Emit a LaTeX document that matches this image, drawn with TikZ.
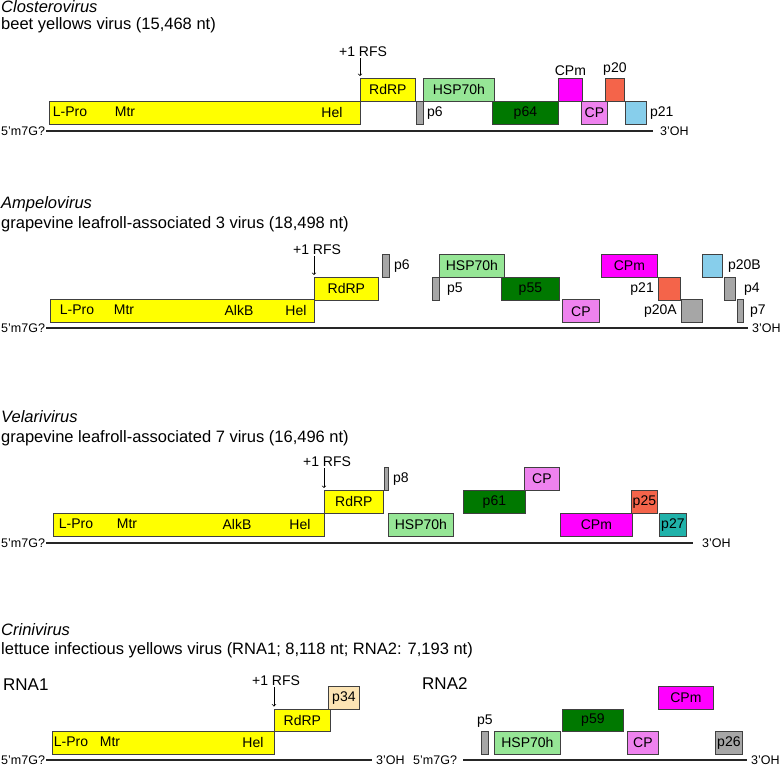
\documentclass[tikz,border=0pt]{standalone}
\usepackage{fontspec}
\setmainfont{Liberation Sans}
\usetikzlibrary{positioning}
\definecolor{orfline}{HTML}{404040}
\definecolor{polyel}{HTML}{FFFF00}
\definecolor{hspgreen}{HTML}{96E696}
\definecolor{darkgreen}{HTML}{007800}
\definecolor{cpmmag}{HTML}{FF00FF}
\definecolor{cpviolet}{HTML}{EE82EE}
\definecolor{tomato}{HTML}{F4644A}
\definecolor{skyblue}{HTML}{87CEEB}
\definecolor{orfgrey}{HTML}{A6A6A6}
\definecolor{tealorf}{HTML}{20B2AA}
\definecolor{wheatorf}{HTML}{FCE4B4}

\begin{document}
\begin{tikzpicture}[x=1pt,y=1pt,
  orf/.style={draw=orfline,line width=0.8pt,inner sep=0pt,minimum height=22.6pt,anchor=north west,font=\fontsize{14}{16}\selectfont},
  lbl/.style={inner sep=1pt,font=\fontsize{14}{16}\selectfont},
  endlbl/.style={inner sep=1pt,anchor=west,font=\fontsize{12.5}{14}\selectfont},
  genus/.style={anchor=base west,inner sep=0pt,font=\fontsize{16.5}{19}\selectfont\itshape},
  virus/.style={anchor=base west,inner sep=0pt,font=\fontsize{16.5}{19}\selectfont},
  rna/.style={anchor=base west,inner sep=0pt,font=\fontsize{17}{20}\selectfont},
  genome/.style={line width=1.2pt,draw=black!85},
  rfsarrow/.style={->,line width=0.7pt,shorten >=2pt}]
\useasboundingbox (0,0) rectangle (780,-767);

\node[genus] (clos) at (1,-13) {Closterovirus};
\node[virus] (byv) at (1,-30) {beet yellows virus (15,468 nt)};
\node[orf,fill=polyel,minimum width=311pt] (pol1) at (49,-101) {};
\node[lbl] (lpro1) at (70,-112) {L-Pro};
\node[lbl] (mtr1) at (125,-112) {Mtr};
\node[lbl] (hel1) at (332,-112) {Hel};
\node[orf,fill=polyel,minimum width=55pt] (rdrp1) at (360,-78) {RdRP};
\node[orf,fill=orfgrey,minimum width=7pt] (p6a) at (416,-101) {};
\node[lbl,right=2pt of p6a] (p6at) {p6};
\node[orf,fill=hspgreen,minimum width=71pt] (hsp1) at (423,-78) {HSP70h};
\node[orf,fill=darkgreen,minimum width=66pt] (p64) at (492,-101) {p64};
\node[orf,fill=cpmmag,minimum width=24pt] (cpm1) at (558,-78) {};
\node[lbl,above=1pt of cpm1] (cpm1t) {CPm};
\node[orf,fill=cpviolet,minimum width=26pt] (cp1) at (581,-101) {CP};
\node[orf,fill=tomato,minimum width=19pt] (p20) at (605,-78) {};
\node[lbl,above=1pt of p20] (p20t) {p20};
\node[orf,fill=skyblue,minimum width=21pt] (p21a) at (625,-101) {};
\node[lbl,right=2pt of p21a] (p21at) {p21};
\node[lbl] (rfs1) at (363,-52) {+1 RFS};
\draw[rfsarrow] (rfs1.south -| rdrp1.north west) -- (rdrp1.north west);
\node[endlbl] (five1) at (0,-131) {5'm7G?};
\node[endlbl] (three1) at (659,-131) {3'OH};
\draw[genome] (five1.east) -- ([xshift=-6pt]three1.west);

\node[genus] (ampe) at (1,-209) {Ampelovirus};
\node[virus] (glrav3) at (1,-229) {grapevine leafroll-associated 3 virus (18,498 nt)};
\node[orf,fill=polyel,minimum width=264pt] (pol2) at (50,-299.5) {};
\node[lbl] (lpro2) at (77,-310) {L-Pro};
\node[lbl] (mtr2) at (124,-310) {Mtr};
\node[lbl] (alkb2) at (239,-310) {AlkB};
\node[lbl] (hel2) at (296,-310) {Hel};
\node[orf,fill=polyel,minimum width=64pt] (rdrp2) at (314,-277) {RdRP};
\node[orf,fill=orfgrey,minimum width=7pt] (p6b) at (382,-254) {};
\node[lbl,right=3pt of p6b] (p6bt) {p6};
\node[orf,fill=orfgrey,minimum width=7pt] (p5b) at (432,-277) {};
\node[lbl,right=6pt of p5b] (p5bt) {p5};
\node[orf,fill=hspgreen,minimum width=65pt] (hsp2) at (439,-254) {HSP70h};
\node[orf,fill=darkgreen,minimum width=58pt] (p55) at (501,-277) {p55};
\node[orf,fill=cpviolet,minimum width=37pt] (cp2) at (562,-299.5) {CP};
\node[orf,fill=cpmmag,minimum width=56pt] (cpm2) at (601,-254) {CPm};
\node[orf,fill=tomato,minimum width=22pt] (p21b) at (658,-277) {};
\node[lbl,left=3pt of p21b] (p21bt) {p21};
\node[orf,fill=orfgrey,minimum width=21pt] (p20A) at (681,-299.5) {};
\node[lbl,left=3pt of p20A] (p20At) {p20A};
\node[orf,fill=skyblue,minimum width=20pt] (p20B) at (702,-254) {};
\node[lbl,right=4pt of p20B] (p20Bt) {p20B};
\node[orf,fill=orfgrey,minimum width=11pt] (p4) at (724,-277) {};
\node[lbl,right=7pt of p4] (p4t) {p4};
\node[orf,fill=orfgrey,minimum width=6pt] (p7) at (737,-299.5) {};
\node[lbl,right=5pt of p7] (p7t) {p7};
\node[lbl] (rfs2) at (317,-250) {+1 RFS};
\draw[rfsarrow] (rfs2.south -| rdrp2.north west) -- (rdrp2.north west);
\node[endlbl] (five2) at (0,-328) {5'm7G?};
\node[endlbl] (three2) at (751,-328) {3'OH};
\draw[genome] (five2.east) -- ([xshift=-3pt]three2.west);

\node[genus] (vela) at (1,-423) {Velarivirus};
\node[virus] (glrav7) at (1,-443) {grapevine leafroll-associated 7 virus (16,496 nt)};
\node[orf,fill=polyel,minimum width=271pt] (pol3) at (53,-513) {};
\node[lbl] (lpro3) at (76,-524) {L-Pro};
\node[lbl] (mtr3) at (127,-524) {Mtr};
\node[lbl] (alkb3) at (237,-524) {AlkB};
\node[lbl] (hel3) at (300,-524) {Hel};
\node[orf,fill=polyel,minimum width=59pt] (rdrp3) at (324,-490) {RdRP};
\node[orf,fill=orfgrey,minimum width=4pt] (p8) at (384,-467) {};
\node[lbl,right=3pt of p8] (p8t) {p8};
\node[orf,fill=hspgreen,minimum width=65pt] (hsp3) at (388,-513) {HSP70h};
\node[orf,fill=darkgreen,minimum width=62pt] (p61) at (463,-490) {p61};
\node[orf,fill=cpviolet,minimum width=35pt] (cp3) at (524,-467) {CP};
\node[orf,fill=cpmmag,minimum width=72pt] (cpm3) at (560,-513) {CPm};
\node[orf,fill=tomato,minimum width=26pt] (p25) at (631,-490) {p25};
\node[orf,fill=tealorf,minimum width=27pt] (p27) at (659,-513) {p27};
\node[lbl] (rfs3) at (327,-462) {+1 RFS};
\draw[rfsarrow] (rfs3.south -| rdrp3.north west) -- (rdrp3.north west);
\node[endlbl] (five3) at (0,-543) {5'm7G?};
\node[endlbl] (three3) at (701,-543) {3'OH};
\draw[genome] (five3.east) -- ([xshift=-8pt]three3.west);

\node[genus] (crin) at (1,-635) {Crinivirus};
\node[virus] (liyv) at (1,-654) {lettuce infectious yellows virus (RNA1; 8,118 nt; RNA2: 7,193 nt)};
\node[rna] (rna1) at (3,-690) {RNA1};
\node[orf,fill=polyel,minimum width=222pt] (pol4) at (52,-731) {};
\node[lbl] (lpro4) at (71,-742) {L-Pro};
\node[lbl] (mtr4) at (110,-742) {Mtr};
\node[lbl] (hel4) at (253,-742) {Hel};
\node[orf,fill=polyel,minimum width=56pt] (rdrp4) at (274,-708.5) {RdRP};
\node[orf,fill=wheatorf,minimum width=31pt] (p34) at (328,-686) {p34};
\node[lbl] (rfs4) at (276,-681) {+1 RFS};
\draw[rfsarrow] (rfs4.south -| rdrp4.north west) -- (rdrp4.north west);
\node[endlbl] (five4) at (0,-760) {5'm7G?};
\node[endlbl] (three4) at (375,-760) {3'OH};
\draw[genome] (five4.east) -- ([xshift=-3pt]three4.west);

\node[rna] (rna2) at (422,-689) {RNA2};
\node[orf,fill=orfgrey,minimum width=7pt] (p5c) at (481,-731) {};
\node[lbl,above=2pt of p5c] (p5ct) {p5};
\node[orf,fill=hspgreen,minimum width=66pt] (hsp4) at (494,-731) {HSP70h};
\node[orf,fill=darkgreen,minimum width=61pt] (p59) at (562,-708.5) {p59};
\node[orf,fill=cpviolet,minimum width=31pt] (cp4) at (627,-731) {CP};
\node[orf,fill=cpmmag,minimum width=55pt] (cpm4) at (658,-686) {CPm};
\node[orf,fill=orfgrey,minimum width=27pt] (p26) at (715,-731) {p26};
\node[endlbl] (five5) at (412,-760) {5'm7G?};
\node[endlbl] (three5) at (750,-760) {3'OH};
\draw[genome] ([xshift=5pt]five5.east) -- ([xshift=-3pt]three5.west);

\end{tikzpicture}
\end{document}
